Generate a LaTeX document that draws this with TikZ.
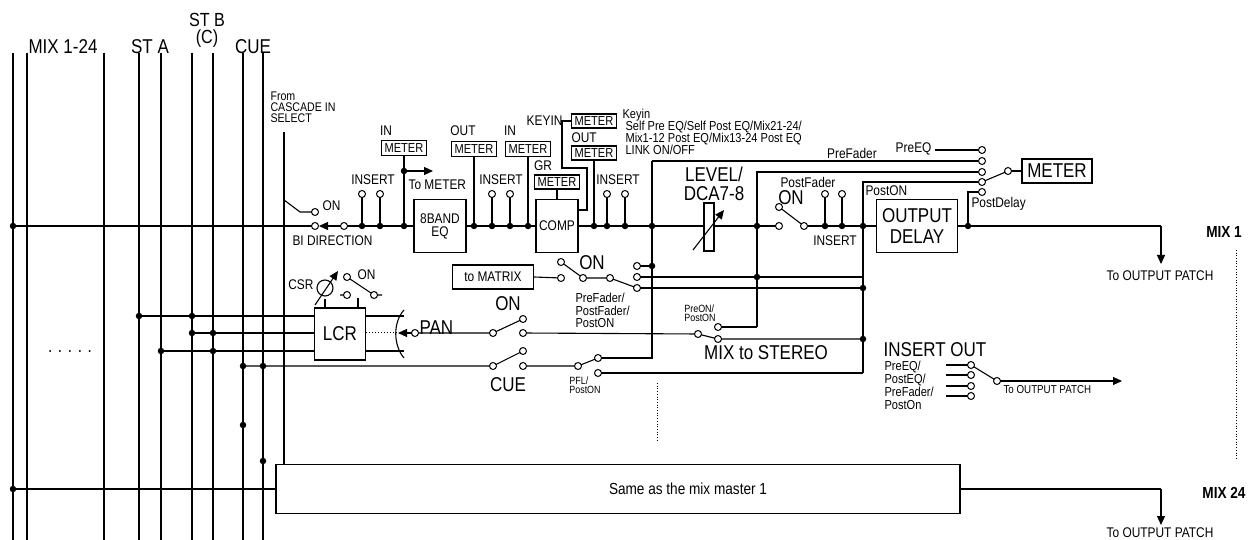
\documentclass[tikz,border=0pt]{standalone}
\usepackage{fontspec}
\setmainfont{Liberation Sans}[FakeStretch=0.85]
\usetikzlibrary{arrows.meta}
\begin{document}
\begin{tikzpicture}[x=1pt,y=-1pt,line width=1.1pt,
  o/.style={circle,draw,fill=white,inner sep=0,minimum size=7pt,line width=1pt},
  d/.style={circle,fill,inner sep=0,minimum size=6.5pt},
  box/.style={draw,fill=white,line width=1.1pt,inner sep=0,align=center},
  mbox/.style={box,font=\fontsize{13}{13}\selectfont,minimum width=45pt,minimum height=15pt},
  big/.style={font=\fontsize{20}{20}\selectfont,inner sep=0},
  mid/.style={font=\fontsize{14}{13}\selectfont,inner sep=0},
  sml/.style={font=\fontsize{10.5}{8.5}\selectfont,inner sep=0,align=left},
  arr/.style={-{Triangle[length=9pt,width=8pt]}}]
\useasboundingbox (0,0) rectangle (1254,540);
% header labels
\node[big] (lmix) at (63,47) {MIX 1-24};
\node[big] (lsta) at (150,47) {ST A};
\node[big,align=center,font=\fontsize{19}{17}\selectfont] (lstb) at (207,30) {ST B\\(C)};
\node[big] (lcue) at (253,47) {CUE};
\node[mid,align=left,anchor=north west,font=\fontsize{12.5}{11}\selectfont] (casc) at (270,91) {From\\CASCADE IN\\SELECT};
\foreach \x in {13,27,104,139,161,192,213,243,263} \draw (\x,53)--(\x,540);
\node[font=\fontsize{18}{18}\selectfont] (dots) at (70,352) {. . . . .};
% main line
\draw (13,226)--(315,226);
\draw (284,132)--(284,464);
\draw (284,200)--(300,212)--(315,212);
\node[mid,anchor=west] (lon0) at (322,206) {ON};
\draw[arr] (344,226)--(319,226);
\draw (344,226)--(414,226);
\node[mid,anchor=north west] (lbi) at (292,235) {BI DIRECTION};
\draw (362,226)--(362,194) (380,226)--(380,194);
\node[mid] (lins1) at (373,180) {INSERT};
\node[mbox] (inm) at (404,148) {METER};
\node[mid] (lin1) at (386,131) {IN};
\draw (inm.south)--(404,226);
\draw[arr] (404,171)--(433,171);
\node[mid,anchor=west] (ltm) at (408,185) {To METER};
\node[box,minimum width=52pt,minimum height=53pt,mid] (eq) at (440,226) {8BAND\\EQ};
\draw (eq.east)--(536,226);
\node[mbox] (outm) at (474,149) {METER};
\node[mid] (lout1) at (463,131) {OUT};
\draw (outm.south)--(474,226);
\draw (492,226)--(492,194) (510,226)--(510,194);
\node[mid] (lins2) at (501,180) {INSERT};
\node[mbox] (inm2) at (528,149) {METER};
\node[mid] (lin2) at (510,131) {IN};
\draw (inm2.south)--(528,226);
\node[box,minimum width=42pt,minimum height=53pt,mid] (comp) at (557,226) {COMP};
\node[mbox,minimum height=14pt] (grm) at (557,182) {METER};
\node[mid] (lgr) at (543,166) {GR};
\draw (grm.south)--(comp.north);
\node[mbox,minimum height=14pt] (kim) at (594,121) {METER};
\node[mid,anchor=east] (lki) at (563,121) {KEYIN};
\draw (kim.west)--(562,121)--(562,168)--(587,168)--(587,210)--(578,210);
\node[mbox,minimum height=14pt] (com) at (594,153) {METER};
\node[mid,anchor=west] (lout2) at (571,138) {OUT};
\draw (com.south)--(594,226);
\node[mid,anchor=west,font=\fontsize{13}{13}\selectfont,align=left] (lkeyin) at (622,115) {Keyin};
\node[mid,anchor=north west,font=\fontsize{13}{12}\selectfont,align=left] (lkeyin2) at (625,121) {Self Pre EQ/Self Post EQ/Mix21-24/\\Mix1-12 Post EQ/Mix13-24 Post EQ\\LINK ON/OFF};
\draw (578,226)--(704,226);
\draw (607,226)--(607,194) (625,226)--(625,194);
\node[mid] (lins3) at (618,180) {INSERT};
% fader
\node[big,align=center,font=\fontsize{20}{19}\selectfont] (llev) at (714,184) {LEVEL/\\DCA7-8};
\draw (704,226)--(779,226);
\node[draw,fill=white,minimum width=10pt,minimum height=48pt,inner sep=0] (fad) at (709,227) {};
\draw[arr] (693,250)--(724,210);
% verticals and routing
\draw (652,161)--(652,358)--(598,358);
\draw (652,161)--(978,161);
\node[mid,anchor=south] (lpf) at (852,159) {PreFader};
\node[mid,anchor=east] (lpeq) at (932,149) {PreEQ};
\draw (935,150)--(982,150);
\draw (757,327)--(757,172)--(978,172);
\node[mid,anchor=west] (lpost) at (780,182) {PostFader};
\draw (863,373)--(863,182)--(978,182);
\node[mid,anchor=west] (lpon) at (865,191) {PostON};
\draw (968,226)--(968,192)--(982,192);
\node[mid,anchor=west] (lpd) at (971,204) {PostDelay};
\draw (982,182)--(1008,171);
\node[box,big,minimum width=70pt,minimum height=24pt] (mtr) at (1057,171) {METER};
\draw (1008,171)--(mtr.west);
% post fader switch
\node[big] (lon1) at (791,198) {ON};
\draw (779,207)--(804,226);
\draw (804,226)--(877,226);
\draw (825,226)--(825,194) (842,226)--(842,194);
\node[mid] (lins4) at (835,241) {INSERT};
\node[box,big,minimum width=81pt,minimum height=53pt,font=\fontsize{20}{21}\selectfont] (odl) at (917,226) {OUTPUT\\DELAY};
\draw (odl.east)--(1161,226);
\draw[arr] (1161,226)--(1161,264);
\node[mid] (ltop1) at (1160,276) {To OUTPUT PATCH};
\node[big,font=\bfseries\fontsize{16}{16}\selectfont] (lmix1) at (1224,232) {MIX 1};
\draw[dotted,line width=0.7pt] (1236,250)--(1236,460);
% to matrix
\node[box,mid,minimum width=81pt,minimum height=24pt] (tom) at (493,277) {to MATRIX};
\draw (tom.east)--(561,278);
\draw (561,262)--(583,278)--(610,278)--(637,288);
\node[big] (lon2) at (592,263) {ON};
\draw (637,266)--(652,266);
\draw (637,277)--(863,277);
\draw (637,288)--(863,288);
\node[mid,anchor=north west,align=left,font=\fontsize{13}{12.5}\selectfont] (lpfp) at (575,293) {PreFader/\\PostFader/\\PostON};
% LCR
\draw (139,316)--(315,316) (192,333)--(315,333) (161,351)--(315,351);
\node[box,big,minimum width=51pt,minimum height=52pt] (lcr) at (340,334) {LCR};
\draw (lcr.east|-0,316)--(404,316) (lcr.east|-0,351)--(404,351);
\draw[dotted,line width=1pt] (366,333)--(398,333);
\draw (404,310) .. controls (393,322) and (393,345) .. (404,358);
\draw[arr] (415,333)--(398,333);
\node[big,anchor=south west] (lpan) at (419,335) {PAN};
\draw (415,333)--(493,333)--(523,319);
\node[big] (lon3) at (508,304) {ON};
% CSR
\draw (325,308)--(325,299) (358,308)--(358,298);
\draw (325,288) circle (8pt);
\draw[arr] (315,305)--(338,271);
\node[mid,anchor=east] (lcsr) at (314,285) {CSR};
\draw (340,295)--(347,295) (374,295)--(382,295) (347,277)--(374,295);
\node[mid,anchor=west] (lon4) at (357,275) {ON};
% PAN outputs
\draw (523,333)--(698,334)--(718,339)--(863,339);
\draw (718,327)--(757,327);
\node[sml] (lpre) at (700,313) {PreON/\\PostON};
\node[big] (lmts) at (766,353) {MIX to STEREO};
% CUE
\draw (243,366)--(493,366)--(523,351);
\node[big] (lcue2) at (508,385) {CUE};
\draw (523,366)--(578,366)--(598,358);
\draw (598,373)--(863,373);
\node[sml] (lpfl) at (585,385) {PFL/\\PostON};
\draw[dotted,line width=0.7pt] (657,383)--(657,440);
% INSERT OUT
\node[big] (lio) at (935,350) {INSERT OUT};
\node[mid,anchor=north west,align=left,font=\fontsize{13}{13}\selectfont] (lio2) at (884,361) {PreEQ/\\PostEQ/\\PreFader/\\PostOn};
\foreach \y in {365,375,386,396} {\draw (946,\y)--(971,\y);}
\draw (971,365)--(997,381);
\draw[arr] (997,381)--(1122,381);
\node[mid,anchor=west,font=\fontsize{11.5}{11}\selectfont] (ltop3) at (1003,390) {To OUTPUT PATCH};
% bottom
\node[box,minimum width=684pt,minimum height=49pt] (same) at (618,489) {};
\node[font=\fontsize{16}{16}\selectfont] (samet) at (688,489) {Same as the mix master 1};
\draw (13,489)--(same.west);
\draw (same.east)--(1161,489);
\draw[arr] (1161,489)--(1161,525);
\node[mid] (ltop2) at (1160,533) {To OUTPUT PATCH};
\node[big,font=\bfseries\fontsize{16}{16}\selectfont] (lmix24) at (1224,493) {MIX 24};
% dots
\foreach \p in {(13,226),(362,226),(380,226),(404,226),(404,171),(474,226),(492,226),(510,226),(528,226),(594,226),(607,226),(625,226),(652,226),(652,266),(757,226),(757,277),(825,226),(842,226),(863,226),(863,288),(863,339),(968,226),
(139,316),(192,316),(192,333),(213,333),(161,351),(213,351),(243,366),(263,366),(243,425),(263,461),(13,489)} \node[d] at \p {};
% circles
\foreach \p in {(315,212),(315,226),(344,226),(362,194),(380,194),(492,194),(510,194),(607,194),(625,194),(825,194),(842,194),
(779,207),(779,226),(804,226),(982,150),(982,161),(982,172),(982,182),(982,192),(1008,171),
(561,262),(561,278),(583,278),(610,278),(637,266),(637,277),(637,288),
(347,277),(347,295),(374,295),(415,333),(493,333),(523,319),(523,333),(698,334),(718,327),(718,339),
(493,366),(523,351),(523,366),(578,366),(598,358),(598,373),
(971,365),(971,375),(971,386),(971,396),(997,381)} \node[o] at \p {};
\end{tikzpicture}
\end{document}
